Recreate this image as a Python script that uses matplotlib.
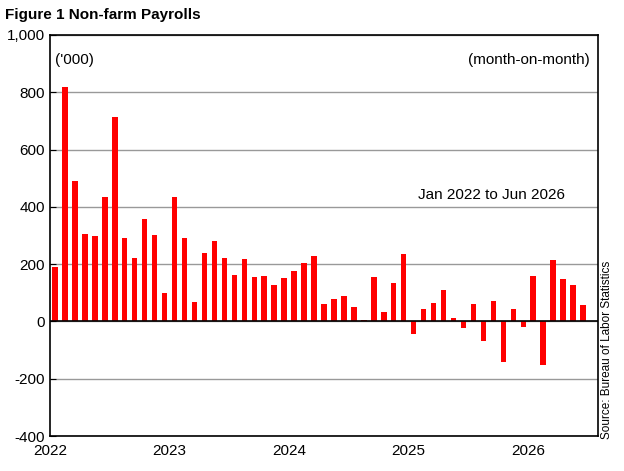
import matplotlib
matplotlib.use('Agg')
import matplotlib.pyplot as plt
import numpy as np

plt.rcParams['font.family'] = ['Liberation Sans', 'DejaVu Sans']

# monthly change, thousands, Jan 2022 .. Jun 2026
payrolls = [190, 818, 490, 305, 300, 435, 712, 290, 220, 357, 302, 100,
            435, 290, 68, 240, 280, 222, 162, 218, 155, 158, 128, 152,
            175, 205, 228, 62, 78, 88, 52, 5, 155, 32, 135, 235,
            -45, 42, 65, 108, 12, -22, 62, -70, 72, -140, 42, -18,
            160, -153, 213, 148, 128, 58]
years = ['2022', '2023', '2024', '2025', '2026']

fig = plt.figure(figsize=(6.24, 4.71), dpi=100)
ax = fig.add_axes([50/624, 35/471, 548/624, 401/471])

x = np.arange(len(payrolls))
ax.bar(x, payrolls, width=0.55, color='#ff0000', zorder=3)

ax.set_xlim(-0.5, len(payrolls) + 0.5)
ax.set_ylim(-400, 1000)
ax.set_yticks(range(-400, 1001, 200))
ax.set_yticklabels([f'{v:,}' for v in range(-400, 1001, 200)])
ax.yaxis.grid(True, color='#999999', linewidth=1, zorder=0)
ax.axhline(0, color='black', linewidth=1.2, zorder=4)

ax.set_xticks([12 * i - 0.5 for i in range(len(years))])
ax.set_xticklabels(years)
ax.tick_params(axis='x', length=0, pad=6)
ax.tick_params(axis='both', labelsize=11)
ax.tick_params(axis='y', direction='in', length=4)
for s in ax.spines.values():
    s.set_linewidth(1.2)

ax.text(0.01, 0.955, "('000)", transform=ax.transAxes, fontsize=11, va='top')
ax.text(0.985, 0.955, '(month-on-month)', transform=ax.transAxes, fontsize=11,
        va='top', ha='right')
ax.text(0.94, 418, 'Jan 2022 to Jun 2026', transform=ax.get_yaxis_transform(),
        fontsize=11, ha='right', va='bottom')

fig.text(5/624, 1 - 15/471, 'Figure 1 Non-farm Payrolls', fontsize=11,
         fontweight='bold', va='center')
fig.text(607/624, 1 - 350/471, 'Source: Bureau of Labor Statistics', rotation=90,
         fontsize=8.5, ha='center', va='center')

fig.savefig('out.png', dpi=100)
